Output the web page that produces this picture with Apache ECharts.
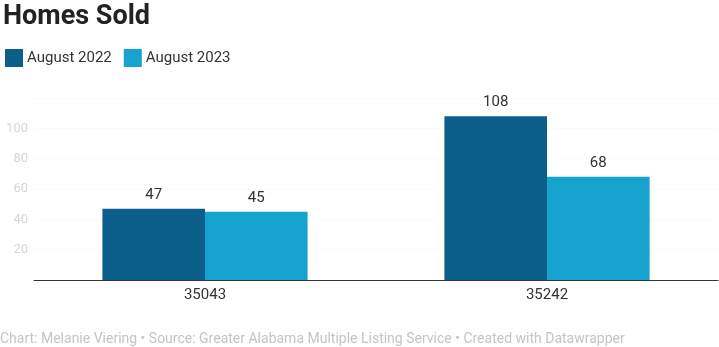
<!DOCTYPE html>
<html><head><meta charset="utf-8">
<script src="https://cdn.jsdelivr.net/npm/echarts@6/dist/echarts.min.js"></script>
<style>html,body{margin:0;padding:0;background:#fff}#c{width:719px;height:347px}</style>
</head><body><div id="c"></div>
<script>
const categories = ['35043', '35242'];
const seriesNames = ['August 2022', 'August 2023'];
const aug2022 = [47, 108];
const aug2023 = [45, 68];
const yTicks = [20, 40, 60, 80, 100];

const chart = echarts.init(document.getElementById('c'));
const font = 'Roboto, sans-serif';
const lbl = {show: true, position: 'top', color: '#333', fontSize: 15, fontFamily: font, distance: 6};
chart.setOption({
  animation: false,
  title: {text: 'Homes Sold', left: -2, top: -1,
    textStyle: {fontFamily: font, fontWeight: 'bold', fontSize: 27, color: '#222'}},
  legend: {left: 0, top: 44, icon: 'rect', itemWidth: 18, itemHeight: 18, itemGap: 12,
    textStyle: {fontFamily: font, fontSize: 15, color: '#333', padding: [0, 0, 0, -1]},
    data: seriesNames},
  graphic: [{type: 'text', left: 0, top: 332,
    style: {text: 'Chart: Melanie Viering • Source: Greater Alabama Multiple Listing Service • Created with Datawrapper',
      fontFamily: font, fontSize: 14, fill: '#c4c4c4'}}],
  grid: {left: 34, right: 1, top: 98, bottom: 67},
  xAxis: {type: 'category', data: categories,
    axisLine: {lineStyle: {color: '#333', width: 1}}, axisTick: {show: false},
    axisLabel: {color: '#333', fontSize: 15, fontFamily: font, margin: 8}},
  yAxis: {type: 'value', min: 0, max: 120, interval: 20,
    axisLabel: {fontFamily: font, fontSize: 13, color: '#d6d6d6', margin: 6,
      formatter: v => yTicks.includes(v) ? String(v) : ''},
    splitLine: {lineStyle: {color: '#fafafa'}}, axisLine: {show: false}, axisTick: {show: false}},
  series: [
    {name: seriesNames[0], type: 'bar', data: aug2022, barGap: 0, barCategoryGap: '40%',
      itemStyle: {color: '#0c5f8b'}, label: lbl},
    {name: seriesNames[1], type: 'bar', data: aug2023,
      itemStyle: {color: '#17a3d0'}, label: lbl}
  ]
});
</script></body></html>
